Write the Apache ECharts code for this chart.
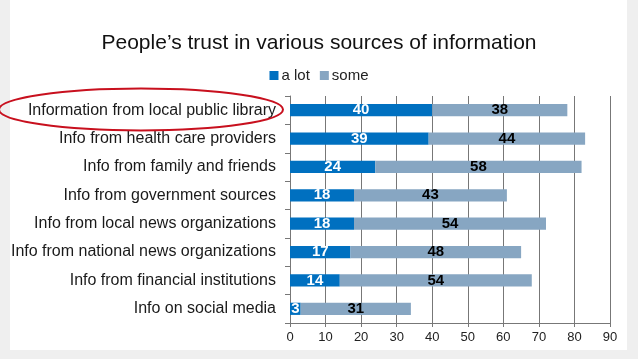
<!DOCTYPE html>
<html><head><meta charset="utf-8">
<script src="https://cdn.jsdelivr.net/npm/echarts@6/dist/echarts.min.js"></script>
<style>html,body{margin:0;padding:0;background:#efefef;}#c{width:638px;height:359px;}</style>
</head><body><div id="c"></div>
<script>
const categories = ["Information from local public library","Info from health care providers","Info from family and friends","Info from government sources","Info from local news organizations","Info from national news organizations","Info from financial institutions","Info on social media"];
const aLot = [40,39,24,18,18,17,14,3];
const some = [38,44,58,43,54,48,54,31];
const xTicks = [0,10,20,30,40,50,60,70,80,90];

const chart = echarts.init(document.getElementById('c'), null, {renderer:'canvas'});
const font = 'Liberation Sans, Arial, sans-serif';
chart.setOption({
  backgroundColor: 'transparent',
  animation: false,
  graphic: [
    {type:'rect', z:-10, shape:{x:10,y:0,width:617,height:350}, style:{fill:'#ffffff'}},
    {type:'ellipse', z:100, shape:{cx:141,cy:109.5,rx:142,ry:21}, style:{fill:'none',stroke:'#c8101e',lineWidth:2}}
  ],
  title: {text:"People’s trust in various sources of information", left:'center', top:28,
    textStyle:{fontFamily:font,fontSize:21,fontWeight:'normal',color:'#111'}},
  legend: {top:63, left:'center', itemWidth:9, itemHeight:9, itemGap:10, icon:'rect',
    textStyle:{fontFamily:font,fontSize:15,color:'#222',padding:[0,0,0,-2]},
    data:['a lot','some']},
  grid: {left:290, right:28, top:96, bottom:36, containLabel:false},
  xAxis: {type:'value', min:0, max:90, interval:10,
    axisLine:{show:true,lineStyle:{color:'#777'}},
    axisTick:{show:true,length:4,lineStyle:{color:'#777'}},
    splitLine:{show:true,lineStyle:{color:'#777',width:1}},
    axisLabel:{fontFamily:font,fontSize:13,color:'#222',margin:8,
      formatter:v=>xTicks.includes(v)?String(v):''}},
  yAxis: {type:'category', inverse:true, data:categories,
    axisLine:{show:true,lineStyle:{color:'#777'}},
    axisTick:{show:true,length:5,lineStyle:{color:'#777'}},
    axisLabel:{fontFamily:font,fontSize:16,color:'#1a1a1a',margin:14}},
  series: [
    {name:'a lot', type:'bar', stack:'t', data:aLot, barWidth:'43%',
      itemStyle:{color:'#0070c0'},
      label:{show:true,position:'inside',color:'#fff',fontWeight:'bold',fontSize:15,fontFamily:font}},
    {name:'some', type:'bar', stack:'t', data:some, barWidth:'43%',
      itemStyle:{color:'#87a6c2'},
      label:{show:true,position:'inside',color:'#000',fontWeight:'bold',fontSize:15,fontFamily:font}}
  ]
});
</script></body></html>
